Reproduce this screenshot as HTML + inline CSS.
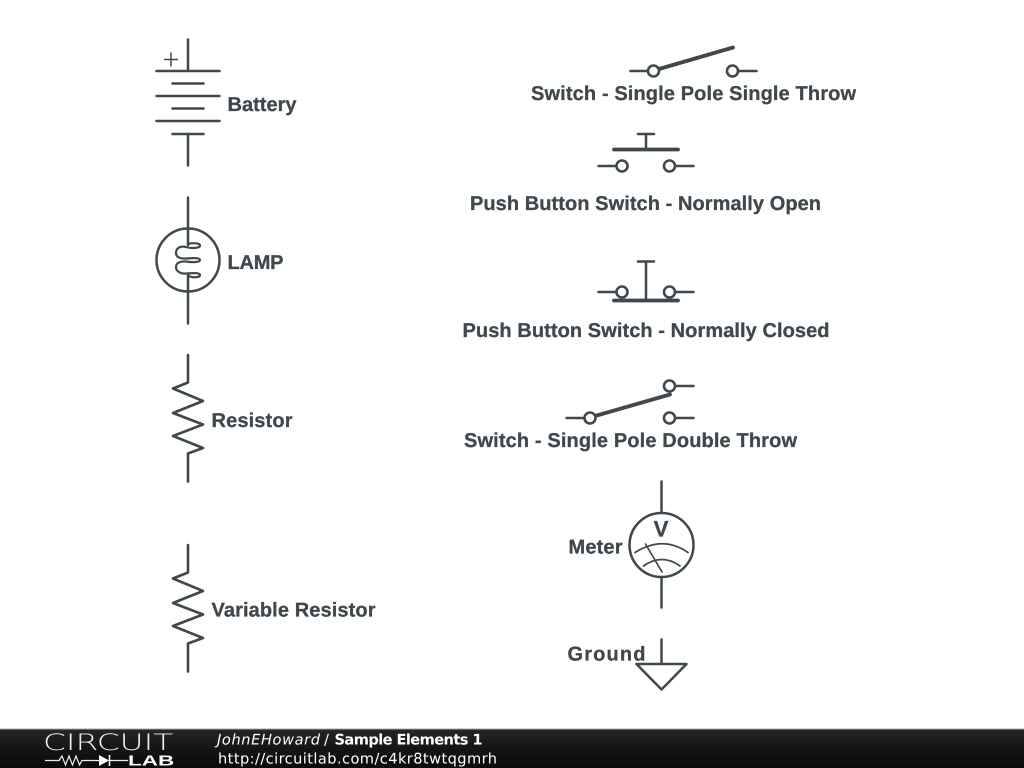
<!DOCTYPE html>
<html>
<head>
<meta charset="utf-8">
<style>
html,body{margin:0;padding:0;width:1024px;height:768px;overflow:hidden;background:#fff}
svg{display:block}
text{text-rendering:geometricPrecision}
.l{font-family:"Liberation Sans",sans-serif;font-weight:bold;font-size:20px;fill:#3f484d;stroke:#3f484d;stroke-width:.3}
.w{fill:none;stroke:#3f484d;stroke-width:2.5;stroke-linecap:round;stroke-linejoin:round}
.t{fill:none;stroke:#3f484d;stroke-width:3.8;stroke-linecap:round}
.c{fill:#fff;stroke:#3f484d;stroke-width:2.6}
.f{font-family:"DejaVu Sans",sans-serif;font-size:14.6px;fill:#fff}
</style>
</head>
<body>
<svg width="1024" height="768" viewBox="0 0 1024 768" xmlns="http://www.w3.org/2000/svg">
<defs>
<linearGradient id="g" x1="0" y1="0" x2="0" y2="1">
<stop offset="0" stop-color="#262626"/><stop offset="0.5" stop-color="#151515"/><stop offset="1" stop-color="#0a0a0a"/>
</linearGradient>
</defs>
<rect width="1024" height="768" fill="#fff"/>

<!-- Battery -->
<path class="w" d="M188 39.500V71M156.500 71H219.500M172.500 83.500H203.500M156.500 96H219.500M172.500 108.500H203.500M156.500 121H219.500M172.500 134H203.500M188 134V165.500"/>
<path d="M164 59.500H178M171 52.500V66.500" fill="none" stroke="#3f484d" stroke-width="1.500"/>
<text class="l" x="227.500" y="111" textLength="69" lengthAdjust="spacing">Battery</text>

<!-- Lamp -->
<path class="w" d="M188 197.500V245M188 275V323.500"/>
<circle cx="188" cy="260" r="31.500" fill="none" stroke="#3f484d" stroke-width="2.500"/>
<path class="w" style="stroke-width:2.200" d="M188 245C188 242.500 200 242.500 200 245.500C200 248.500 190 248.500 186 247C179 245.500 176 249 176 253C176 257 180 259 186 258.500C192 258 200 257.500 200 260C200 262.500 192 262.500 186 261.500C180 261 176 263 176 267C176 271 180 274 186 273.500C192 273 200 272.500 200 275C200 278 190 278 188 275"/>
<text class="l" x="227.500" y="269" textLength="56" lengthAdjust="spacing">LAMP</text>

<!-- Resistor -->
<path class="w" style="stroke-width:2.600" d="M188 355V382.500L173 388.500L203 401L173 413L203 424.500L173 436L203 448L188 453.500V481.500"/>
<text class="l" x="211.500" y="427" textLength="81" lengthAdjust="spacing">Resistor</text>

<!-- Variable Resistor -->
<path class="w" style="stroke-width:2.600" d="M188 545V572.500L173 578.500L203 591L173 603L203 614.500L173 626L203 638L188 643.500V671.500"/>
<text class="l" x="211.500" y="616.500" textLength="164" lengthAdjust="spacing">Variable Resistor</text>

<!-- SPST -->
<path class="w" d="M630.500 71H648M738 71H756.500"/>
<path class="t" d="M659 69L733 47.500"/>
<circle class="c" cx="653.500" cy="71" r="5.500"/>
<circle class="c" cx="732.500" cy="71" r="5.500"/>
<text class="l" x="531" y="100" textLength="325" lengthAdjust="spacing">Switch - Single Pole Single Throw</text>

<!-- Push NO -->
<path class="w" d="M638 134H654M646 134V149M598.500 166H616M675 166H693.500"/>
<path class="t" d="M614 149.500H678"/>
<circle class="c" cx="622" cy="166" r="5.500"/>
<circle class="c" cx="669.500" cy="166" r="5.500"/>
<text class="l" x="470" y="210" textLength="351" lengthAdjust="spacing">Push Button Switch - Normally Open</text>

<!-- Push NC -->
<path class="w" d="M638 261.500H654M646 261.500V300M598.500 292H616M675 292H693.500"/>
<path class="t" d="M614 300.500H678"/>
<circle class="c" cx="622" cy="292" r="5.500"/>
<circle class="c" cx="669.500" cy="292" r="5.500"/>
<text class="l" x="462.500" y="337" textLength="367" lengthAdjust="spacing">Push Button Switch - Normally Closed</text>

<!-- SPDT -->
<path class="w" d="M566.500 418H585M675 386H693.500M675 418H693.500"/>
<path class="t" d="M595 416L670 394.500"/>
<circle class="c" cx="590" cy="418" r="5.500"/>
<circle class="c" cx="669.500" cy="386" r="5.500"/>
<circle class="c" cx="669.500" cy="418" r="5.500"/>
<text class="l" x="464" y="447" textLength="333" lengthAdjust="spacing">Switch - Single Pole Double Throw</text>

<!-- Meter -->
<path class="w" d="M661.500 481.500V513M661.500 577V607.500"/>
<circle cx="661.500" cy="545" r="32" fill="none" stroke="#3f484d" stroke-width="2.500"/>
<text class="l" style="font-size:22.500px" x="661" y="536.500" text-anchor="middle">V</text>
<path d="M635 552.500Q663 535 688 552.500M643.500 566Q662 553 680 566M645.500 544L662 572" fill="none" stroke="#3f484d" stroke-width="1.700" stroke-linecap="round"/>
<text class="l" x="568.500" y="553.500" textLength="54" lengthAdjust="spacing">Meter</text>

<!-- Ground -->
<path class="w" d="M661.500 639.500V664M636.500 664H686.500L661.500 689.500Z"/>
<text class="l" x="567.500" y="660.500" textLength="78" lengthAdjust="spacing">Ground</text>

<!-- Footer -->
<rect x="0" y="729" width="1024" height="39" fill="url(#g)"/>
<rect x="0" y="728.500" width="1024" height="1" fill="#a8a8a8"/>
<text transform="translate(43 750) scale(1.49 1.03)" x="0" y="0" font-family="'DejaVu Sans',sans-serif" font-weight="200" font-size="22" fill="#f0f0f0">CIRCUIT</text>
<path d="M45 760.500H59L62 756L65.500 765L69 756L72.500 765L76 756L79.500 765L82 760.500H99M110 760.500H128" fill="none" stroke="#eee" stroke-width="1.200"/>
<path d="M99 755V766L109 760.500Z" fill="#fff"/>
<path d="M109.500 755V766" stroke="#fff" stroke-width="1.600"/>
<text transform="translate(128 765.500) scale(1.55 1)" x="0" y="0" font-family="'Liberation Sans',sans-serif" font-weight="bold" font-size="14.500" fill="#fff">LAB</text>
<text class="f" x="217" y="744.500" font-style="italic" textLength="103" lengthAdjust="spacing">JohnEHoward</text>
<text class="f" x="324" y="744.500">/</text>
<text class="f" x="334.500" y="744.500" font-weight="bold" textLength="148" lengthAdjust="spacing">Sample Elements 1</text>
<text class="f" x="218" y="763.500" textLength="279" lengthAdjust="spacing">http://circuitlab.com/c4kr8twtqgmrh</text>
</svg>
</body>
</html>
